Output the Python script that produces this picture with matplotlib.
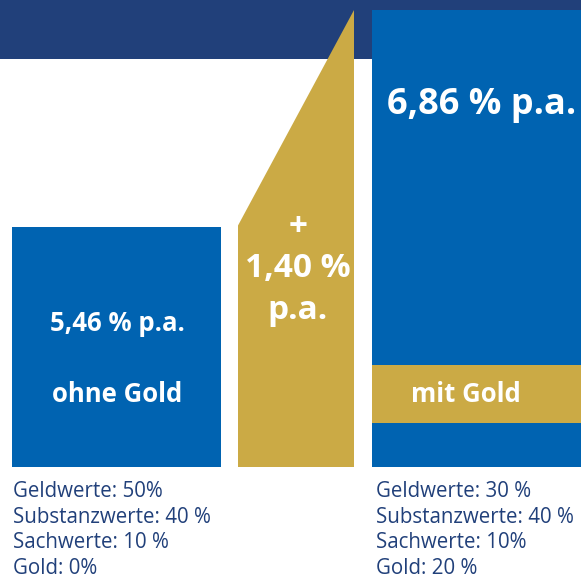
import matplotlib
matplotlib.use("Agg")
import matplotlib.pyplot as plt
from matplotlib.patches import Polygon

# returns in % p.a.
labels = ["ohne Gold", "mit Gold"]
returns = [5.46, 6.86]
diff_lines = ["+", "1,40 %", "p.a."]
value_labels = ["5,46 % p.a.", "6,86 % p.a."]
mix_left = ["Geldwerte: 50%", "Substanzwerte: 40 %", "Sachwerte: 10 %", "Gold: 0%"]
mix_right = ["Geldwerte: 30 %", "Substanzwerte: 40 %", "Sachwerte: 10%", "Gold: 20 %"]

navy = "#21407a"
blue = "#0063b1"
gold = "#cbaa45"

W, H = 581, 579
base = 3.912       # value at the bars' baseline
scale = 155.0      # pixels per percentage point
base_px = 467

def v(y_px):
    # pixel row -> value
    return base + (base_px - y_px) / scale

fig = plt.figure(figsize=(W / 100, H / 100), dpi=100)
ax = fig.add_axes([0, 0, 1, 1])
ax.set_xlim(0, W)
ax.set_ylim(v(H), v(0))
ax.axis("off")

# top band
ax.axhspan(v(59), v(0), color=navy, lw=0, zorder=0)

# bars
ax.bar([116.5], [returns[0] - base], width=209, bottom=base, color=blue, lw=0, zorder=2)
ax.bar([476.5], [returns[1] - base], width=209, bottom=base, color=blue, lw=0, zorder=2)
# gold band in the right bar
ax.bar([476.5], [v(365) - v(423)], width=209, bottom=v(423), color=gold, lw=0, zorder=3)

# difference wedge
wedge = Polygon([(238, base), (238, returns[0] + 0.01), (354, returns[1]), (354, base)],
                closed=True, color=gold, lw=0, zorder=2)
ax.add_patch(wedge)

font = "Open Sans"
ax.text(117, v(324), value_labels[0], color="white", fontsize=18.5, fontweight="bold",
        ha="center", va="center", family=font, zorder=4)
ax.text(117, v(395), labels[0], color="white", fontsize=18.5, fontweight="bold",
        ha="center", va="center", family=font, zorder=4)
ax.text(482, v(105), value_labels[1], color="white", fontsize=26, fontweight="bold",
        ha="center", va="center", family=font, zorder=4)
ax.text(466, v(395), labels[1], color="white", fontsize=18.5, fontweight="bold",
        ha="center", va="center", family=font, zorder=4)
for i, line in enumerate(diff_lines):
    ax.text(298, v(227 + i * 42), line, color="white", fontsize=24, fontweight="bold",
            ha="center", va="center", family=font, zorder=4)

for i, (l, r) in enumerate(zip(mix_left, mix_right)):
    y = v(492 + i * 25.5)
    ax.text(13, y, l, color=navy, fontsize=14.8, ha="left", va="center", family=font)
    ax.text(376, y, r, color=navy, fontsize=14.8, ha="left", va="center", family=font)

fig.savefig("out.png", dpi=100)
